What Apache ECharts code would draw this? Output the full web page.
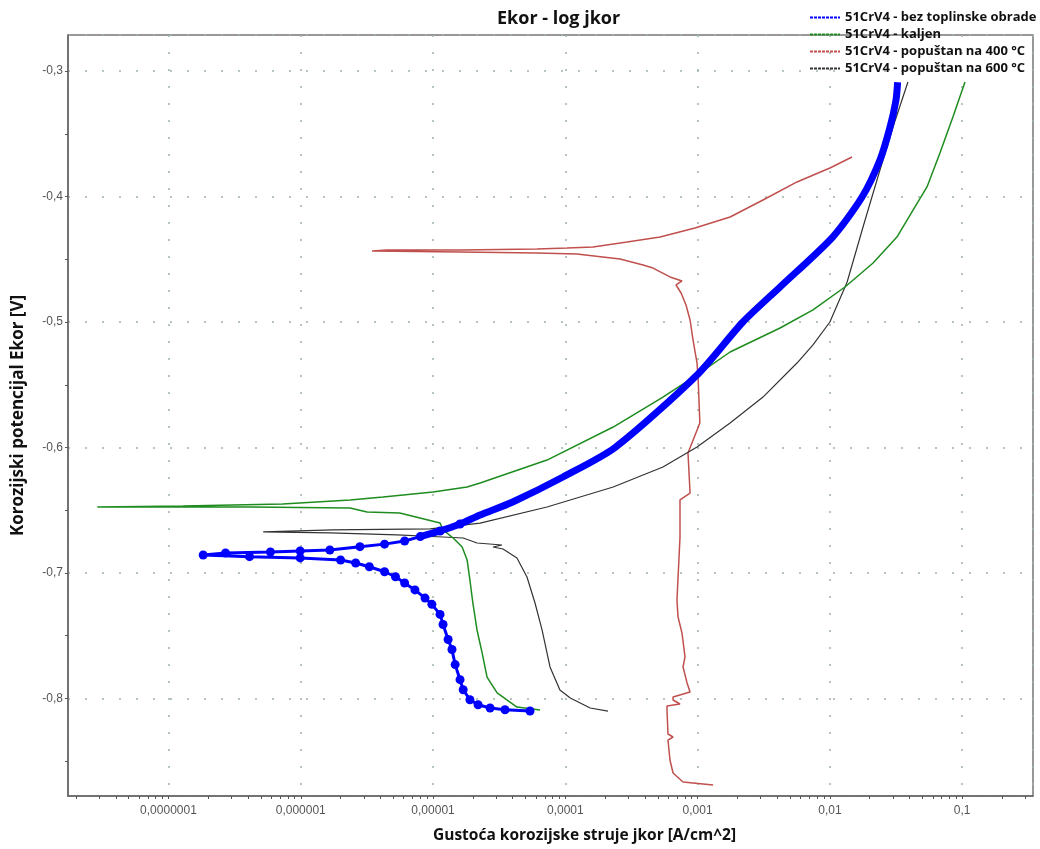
<!DOCTYPE html>
<html><head><meta charset="utf-8">
<script src="https://cdn.jsdelivr.net/npm/echarts@6/dist/echarts.min.js"></script>
<style>html,body{margin:0;padding:0;background:#fff}#c{width:1040px;height:849px}</style>
</head><body><div id="c"></div>
<script>
const seriesNames = [
  '51CrV4 - bez toplinske obrade',
  '51CrV4 - kaljen',
  '51CrV4 - popuštan na 400 °C',
  '51CrV4 - popuštan na 600 °C'
];
const titleText = 'Ekor - log jkor';
const xName = 'Gustoća korozijske struje jkor [A/cm^2]';
const yName = 'Korozijski potencijal Ekor [V]';
const xDecades = [1e-7, 1e-6, 1e-5, 1e-4, 1e-3, 1e-2, 1e-1];
const xDecadeLabels = ['0,0000001', '0,000001', '0,00001', '0,0001', '0,001', '0,01', '0,1'];
const yLabelValues = [-0.8, -0.7, -0.6, -0.5, -0.4, -0.3];
const yTickValues = [-0.85, -0.8, -0.75, -0.7, -0.65, -0.6, -0.55, -0.5, -0.45, -0.4, -0.35, -0.3];

// [current density A/cm^2, potential V]
const blueCathodic = [
  [5.41e-5,-0.810],[3.5e-5,-0.809],[2.7e-5,-0.8076],[2.19e-5,-0.805],[1.9e-5,-0.801],
  [1.69e-5,-0.793],[1.6e-5,-0.785],[1.47e-5,-0.773],[1.39e-5,-0.761],[1.30e-5,-0.753],
  [1.19e-5,-0.741],[1.13e-5,-0.733],[9.8e-6,-0.725],[8.7e-6,-0.720],[7.3e-6,-0.7135],
  [6.1e-6,-0.708],[5.2e-6,-0.703],[4.3e-6,-0.699],[3.3e-6,-0.695],[2.6e-6,-0.692],
  [2.0e-6,-0.6896],[9.9e-7,-0.688],[4.1e-7,-0.687],[1.83e-7,-0.6857],[2.7e-7,-0.684],
  [5.9e-7,-0.6833],[9.9e-7,-0.6825],[1.66e-6,-0.6817],[2.8e-6,-0.679],[4.3e-6,-0.677],
  [6.1e-6,-0.6745],[8.0e-6,-0.671],[1.13e-5,-0.6665],[1.6e-5,-0.661]
];
const blueAnodic = [
  [8.0e-6,-0.671],[1.13e-5,-0.6665],[1.6e-5,-0.661],[2.27e-5,-0.6538],[4.0e-5,-0.6434],
  [9.6e-5,-0.6235],[2.38e-4,-0.600],[9.9e-4,-0.5422],[2.2e-3,-0.500],[4.2e-3,-0.4721],
  [1.05e-2,-0.4323],[1.75e-2,-0.4004],[2.39e-2,-0.3709],[2.85e-2,-0.3446],[3.16e-2,-0.3231],
  [3.25e-2,-0.309]
];
const greenData = [
  [6.44e-5,-0.8092],[4.31e-5,-0.8068],[3.05e-5,-0.7956],[2.56e-5,-0.7829],[2.35e-5,-0.7637],
  [2.15e-5,-0.7454],[2.0e-5,-0.7239],[1.9e-5,-0.7056],[1.81e-5,-0.6896],[1.66e-5,-0.6793],
  [1.42e-5,-0.6721],[1.19e-5,-0.6657],[1.13e-5,-0.6602],[5.6e-6,-0.6522],[3.17e-6,-0.6514],
  [2.36e-6,-0.6482],[4.1e-7,-0.6474],[7.3e-8,-0.6474],[2.9e-8,-0.6474],[1.29e-7,-0.6466],
  [7.3e-7,-0.645],[2.36e-6,-0.6418],[4.19e-6,-0.6394],[1.0e-5,-0.6355],[1.81e-5,-0.6315],
  [2.27e-5,-0.6283],[7.27e-5,-0.61],[2.3e-4,-0.5837],[5.47e-4,-0.5598],[9.9e-4,-0.5422],
  [1.76e-3,-0.5239],[4.2e-3,-0.5048],[7.45e-3,-0.4904],[1.3e-2,-0.4721],[2.12e-2,-0.453],
  [3.21e-2,-0.4323],[4.25e-2,-0.4108],[5.42e-2,-0.3924],[6.79e-2,-0.3653],[8.51e-2,-0.3367],
  [0.105,-0.3088]
];
const redData = [
  [1.31e-3,-0.8689],[7.76e-4,-0.8665],[6.52e-4,-0.8594],[6.18e-4,-0.849],[5.97e-4,-0.8331],
  [6.52e-4,-0.8307],[5.97e-4,-0.8283],[5.87e-4,-0.8092],[5.87e-4,-0.806],[7.36e-4,-0.8044],
  [6.52e-4,-0.8012],[6.52e-4,-0.7988],[8.77e-4,-0.7948],[8.32e-4,-0.7876],[7.76e-4,-0.7749],
  [8.03e-4,-0.7669],[7.62e-4,-0.7478],[7.11e-4,-0.735],[6.98e-4,-0.7215],[7.36e-4,-0.6713],
  [7.36e-4,-0.6418],[8.77e-4,-0.6363],[8.46e-4,-0.6044],[1.04e-3,-0.5805],[1.01e-3,-0.5462],
  [9.9e-4,-0.5327],[9.23e-4,-0.5143],[8.77e-4,-0.4984],[8.17e-4,-0.4865],[7.5e-4,-0.4769],
  [6.87e-4,-0.4705],[7.62e-4,-0.4673],[6.18e-4,-0.4641],[4.6e-4,-0.457],[3.87e-4,-0.4546],
  [2.59e-4,-0.4498],[1.22e-4,-0.4458],[6.1e-5,-0.445],[1.6e-5,-0.4442],[3.46e-6,-0.4434],
  [4.49e-6,-0.4426],[1.6e-5,-0.4426],[6.1e-5,-0.4418],[1.03e-4,-0.441],[1.62e-4,-0.4402],
  [2.93e-4,-0.4363],[5.2e-4,-0.4323],[9.55e-4,-0.4251],[1.76e-3,-0.4163],[3.12e-3,-0.4028],
  [5.64e-3,-0.3884],[1.0e-2,-0.3773],[1.47e-2,-0.3685]
];
const blackData = [
  [2.1e-4,-0.81],[1.54e-4,-0.8076],[1.09e-4,-0.7996],[9.1e-5,-0.7932],[7.66e-5,-0.7749],
  [6.67e-5,-0.7454],[5.9e-5,-0.7239],[5.13e-5,-0.7032],[4.31e-5,-0.688],[3.38e-5,-0.6809],
  [2.84e-5,-0.6793],[3.32e-5,-0.6777],[2.15e-5,-0.6761],[1.69e-5,-0.6721],[1.19e-5,-0.6713],
  [5.34e-6,-0.6697],[1.66e-6,-0.6681],[5.2e-7,-0.6673],[1.75e-6,-0.6657],[9.5e-6,-0.6649],
  [2.27e-5,-0.6602],[7.27e-5,-0.6474],[2.3e-4,-0.6315],[5.47e-4,-0.6155],[9.9e-4,-0.5996],
  [1.76e-3,-0.5805],[3.12e-3,-0.5598],[5.64e-3,-0.5327],[7.45e-3,-0.5183],[1.0e-2,-0.5],
  [1.35e-2,-0.4681],[1.78e-2,-0.4243],[2.39e-2,-0.3789],[3.0e-2,-0.3446],[3.89e-2,-0.3088]
];
const colors = ['#0000ff', '#1e8c1e', '#c0504d', '#333333'];

// minor tick positions for the log axis (1..9 within each decade)
const xTickValues = [];
for (let e = -8; e <= -1; e++) for (let m = 1; m <= 9; m++) xTickValues.push(m * Math.pow(10, e));

const X_MIN = 1.74e-8, X_MAX = 0.343, Y_MIN = -0.8777, Y_MAX = -0.2713;
const chart = echarts.init(document.getElementById('c'));
const gridLine = { show: true, lineStyle: { color: '#9db2a3', type: [2, 15], width: 1.5 } };
const hidden = { axisLine: { show: false }, axisTick: { show: false }, axisLabel: { show: false } };
chart.setOption({
  backgroundColor: '#fff',
  animation: false,
  title: { text: titleText, left: 492, top: 5,
    textStyle: { fontFamily: 'Open Sans', fontWeight: 'bold', fontSize: 18, color: '#111' } },
  legend: {
    orient: 'vertical', left: 804, top: 6, itemWidth: 30, itemHeight: 10, itemGap: 4,
    data: seriesNames,
    textStyle: { fontFamily: 'Open Sans', fontWeight: 'bold', fontSize: 13, color: '#111' },
    lineStyle: { width: 2, type: [3, 1] }, itemStyle: { opacity: 0 }
  },
  grid: { left: 68, right: 7, top: 35, bottom: 53, show: true, borderColor: '#777', borderWidth: 1.5,
    containLabel: false, outerBoundsMode: 'none' },
  xAxis: [{
    type: 'log', logBase: 10, min: X_MIN, max: X_MAX,
    name: xName, nameLocation: 'middle', nameGap: 32,
    nameTextStyle: { fontFamily: 'Open Sans', fontWeight: 'bold', fontSize: 15.5, color: '#111', padding: [0, 0, 0, 68] },
    axisLine: { show: true, lineStyle: { color: '#666', width: 1.5 } },
    axisTick: { show: true, length: 3, customValues: xTickValues, lineStyle: { color: '#555' } },
    minorTick: { show: false },
    axisLabel: { customValues: xDecades, margin: 9, fontFamily: 'Liberation Sans', fontSize: 12, color: '#555',
      formatter: v => { const i = xDecades.findIndex(d => Math.abs(Math.log10(d) - Math.log10(v)) < 1e-6); return i >= 0 ? xDecadeLabels[i] : ''; } },
    splitLine: { show: false }
  }, Object.assign({
    type: 'log', logBase: 10, min: X_MIN, max: X_MAX, position: 'bottom', splitLine: gridLine
  }, hidden)],
  yAxis: [{
    type: 'value', min: Y_MIN, max: Y_MAX, splitNumber: 6,
    name: yName, nameLocation: 'middle', nameGap: 41, nameRotate: 90,
    nameTextStyle: { fontFamily: 'Open Sans', fontWeight: 'bold', fontSize: 17, color: '#111' },
    axisLine: { show: true, lineStyle: { color: '#666', width: 1.5 } },
    axisTick: { show: true, length: 3, customValues: yTickValues, lineStyle: { color: '#555' } },
    axisLabel: { customValues: yLabelValues, margin: 5, fontFamily: 'Liberation Sans', fontSize: 12, color: '#555',
      formatter: v => v.toFixed(1).replace('.', ',') },
    splitLine: { show: false }
  }, Object.assign({
    type: 'value', min: Y_MIN, max: Y_MAX, splitNumber: 6, position: 'left', splitLine: gridLine
  }, hidden)],
  series: [
    { name: seriesNames[0], type: 'line', data: blueAnodic, showSymbol: false, symbol: 'none', smooth: 0.25,
      lineStyle: { color: colors[0], width: 7 }, itemStyle: { color: colors[0] }, z: 5 },
    { name: seriesNames[1], type: 'line', data: greenData, showSymbol: false, symbol: 'none',
      lineStyle: { color: colors[1], width: 1.5 }, itemStyle: { color: colors[1] }, z: 3 },
    { name: seriesNames[2], type: 'line', data: redData, showSymbol: false, symbol: 'none',
      lineStyle: { color: colors[2], width: 1.5 }, itemStyle: { color: colors[2] }, z: 2 },
    { name: seriesNames[3], type: 'line', data: blackData, showSymbol: false, symbol: 'none',
      lineStyle: { color: colors[3], width: 1.2 }, itemStyle: { color: colors[3] }, z: 2 },
    { name: seriesNames[0], type: 'line', data: blueCathodic, symbol: 'circle', symbolSize: 9, showSymbol: true,
      lineStyle: { color: colors[0], width: 3 }, itemStyle: { color: colors[0] }, z: 5 }
  ]
});
</script></body></html>
